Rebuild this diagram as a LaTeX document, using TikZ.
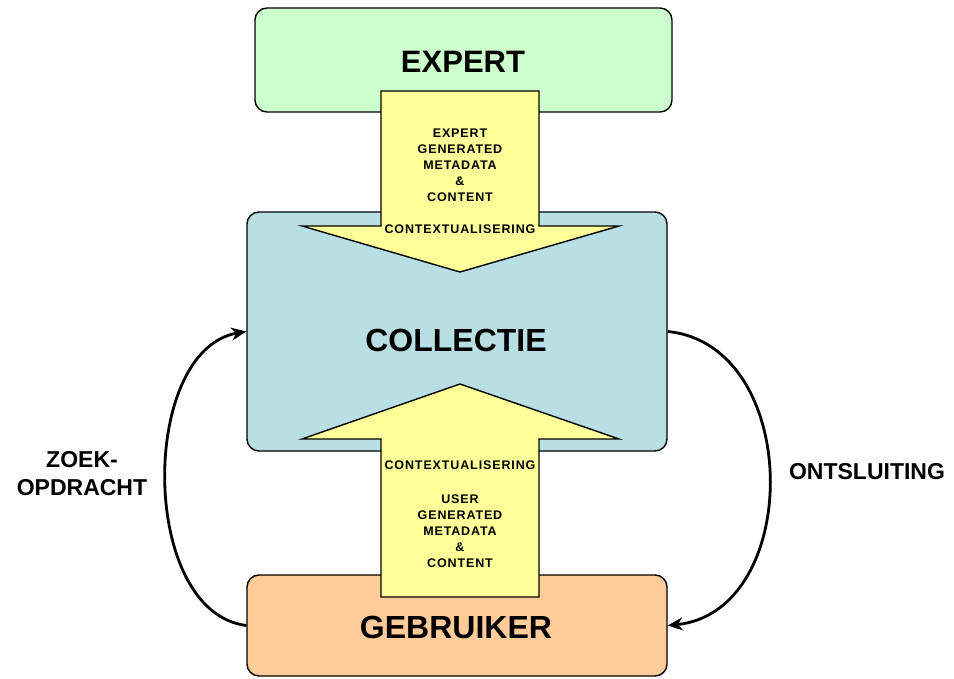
\documentclass[tikz,border=0pt]{standalone}
\usepackage{fontspec}
\setmainfont{Liberation Sans}
\newfontfamily\spacedsans[LetterSpace=7]{Liberation Sans}
\usetikzlibrary{arrows.meta}
\definecolor{expgreen}{HTML}{CCFFCC}
\definecolor{colblue}{HTML}{B8DFE3}
\definecolor{userorange}{HTML}{FFCC99}
\definecolor{arryellow}{HTML}{FFFF99}
\begin{document}
\begin{tikzpicture}[x=1pt,y=-1pt,
  boxstyle/.style={draw=black,line width=1.4pt,rounded corners=12pt,inner sep=0pt},
  bigarrow/.style={draw=black,line width=1.4pt,fill=arryellow,line join=miter},
  bigtext/.style={font=\bfseries\fontsize{32}{38}\selectfont},
  smalltext/.style={font=\spacedsans\bfseries\fontsize{12.5}{16}\selectfont,align=center,inner sep=0pt},
  sidetext/.style={font=\bfseries\fontsize{23}{28}\selectfont,align=center,inner sep=0pt},
  loop/.style={line width=2.8pt,-{Stealth[length=15pt,width=13pt]}}]
\useasboundingbox (0,0) rectangle (954,679);
% boxes
\node[boxstyle,fill=expgreen,minimum width=417pt,minimum height=104pt] (expert) at (463.5,60) {};
\node[boxstyle,fill=colblue,minimum width=420pt,minimum height=239pt] (collectie) at (457,331.5) {};
\node[boxstyle,fill=userorange,minimum width=420pt,minimum height=101pt] (gebruiker) at (457,625.5) {};
% big yellow arrows
\draw[bigarrow] (381,91) -- (539,91) -- (539,226) -- (619,226) -- (460,272) -- (302,226) -- (381,226) -- cycle;
\draw[bigarrow] (381,597) -- (539,597) -- (539,439) -- (619,439) -- (460,384) -- (302,439) -- (381,439) -- cycle;
% labels
\node[bigtext,font=\bfseries\fontsize{31}{36}\selectfont] (expertlbl) at (463,62) {EXPERT};
\node[bigtext] (collectielbl) at (456,340) {COLLECTIE};
\node[bigtext] (gebruikerlbl) at (456,627) {GEBRUIKER};
\node[smalltext] (toptext) at (460,181) {EXPERT\\GENERATED\\METADATA\\\&\\CONTENT\\[16pt]CONTEXTUALISERING};
\node[smalltext] (bottext) at (460,514) {CONTEXTUALISERING\\[18pt]USER\\GENERATED\\METADATA\\\&\\CONTENT};
% loop arrows
\draw[loop] (gebruiker.west) .. controls (139,612) and (139,350) .. (collectie.west);
\draw[loop] (collectie.east) .. controls (803,345) and (803,612) .. (gebruiker.east);
\node[sidetext] (zoek) at (82,474) {ZOEK-\\OPDRACHT};
\node[sidetext] (ontsl) at (867,472) {ONTSLUITING};
\end{tikzpicture}
\end{document}
